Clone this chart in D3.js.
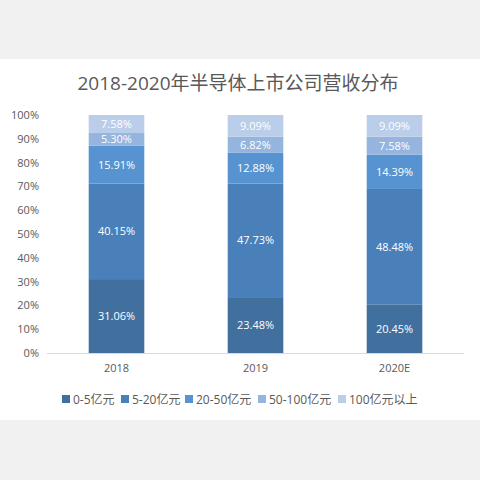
<!DOCTYPE html>
<html><head>
<meta charset="utf-8">
<script src="https://d3js.org/d3.v7.min.js"></script>
<style>
  body { margin: 0; background: #f1f1f2; }
  text { font-family: "Open Sans", "Noto Sans CJK SC", sans-serif; }
  .axis text { fill: #595959; font-size: 11px; }
  .axis path, .axis line { stroke: #d9d9d9; }
</style>
</head>
<body>
<svg id="chart" width="480" height="480"></svg>
<script>
  // data
  const years = ["2018", "2019", "2020E"];
  const series = ["0-5亿元", "5-20亿元", "20-50亿元", "50-100亿元", "100亿元以上"];
  const share0to5 = [31.06, 23.48, 20.45];
  const share5to20 = [40.15, 47.73, 48.48];
  const share20to50 = [15.91, 12.88, 14.39];
  const share50to100 = [5.30, 6.82, 7.58];
  const share100plus = [7.58, 9.09, 9.09];
  const yTicks = [0, 10, 20, 30, 40, 50, 60, 70, 80, 90, 100];
  const colors = ["#41709f", "#4a80b9", "#5693d0", "#95b4de", "#bacde9"];

  const seriesValues = [share0to5, share5to20, share20to50, share50to100, share100plus];
  const rows = years.map((y, i) => {
    const r = { year: y };
    series.forEach((s, j) => r[s] = seriesValues[j][i]);
    return r;
  });

  const svg = d3.select("#chart");
  // white card on light grey page
  svg.append("rect").attr("x", 0).attr("y", 59).attr("width", 480).attr("height", 361).attr("fill", "#fff");

  const margin = { left: 47, right: 16, top: 115, bottom: 127 };
  const x = d3.scaleBand().domain(years).range([margin.left, 480 - margin.right]).paddingInner(0.6).paddingOuter(0.3);
  const y = d3.scaleLinear().domain([0, 100]).range([480 - margin.bottom, margin.top]);

  svg.append("text")
    .attr("x", 238).attr("y", 90)
    .attr("text-anchor", "middle")
    .attr("fill", "#595959")
    .style("font-size", "19px")
    .text("2018-2020年半导体上市公司营收分布");

  const stack = d3.stack().keys(series)(rows);
  const layer = svg.selectAll("g.layer").data(stack).join("g")
    .attr("class", "layer")
    .attr("fill", (d, i) => colors[i]);

  layer.selectAll("rect").data(d => d).join("rect")
    .attr("x", d => x(d.data.year))
    .attr("y", d => y(d[1]))
    .attr("width", x.bandwidth())
    .attr("height", d => y(d[0]) - y(d[1]));

  layer.selectAll("text").data(d => d).join("text")
    .attr("x", d => x(d.data.year) + x.bandwidth() / 2)
    .attr("y", d => (y(d[0]) + y(d[1])) / 2 + 4)
    .attr("text-anchor", "middle")
    .attr("fill", "#fff")
    .style("font-size", "11px")
    .text(d => (d[1] - d[0]).toFixed(2) + "%");

  const yAxis = svg.append("g").attr("class", "axis")
    .attr("transform", "translate(" + margin.left + ",0)")
    .call(d3.axisLeft(y).tickValues(yTicks).tickFormat(d => d + "%").tickSize(0).tickPadding(8));
  yAxis.select(".domain").remove();

  svg.append("g").attr("class", "axis")
    .attr("transform", "translate(0," + y(0) + ")")
    .call(d3.axisBottom(x).tickSize(0).tickPadding(11))
    .call(g => g.select(".domain").attr("d", "M" + margin.left + ",0.5H" + (480 - margin.right)));

  // legend
  const legendX = [62, 121, 185, 258, 338];
  const legend = svg.selectAll("g.legend").data(series).join("g")
    .attr("class", "legend")
    .attr("transform", (d, i) => "translate(" + legendX[i] + ",399)");
  legend.append("rect").attr("x", 0).attr("y", -4).attr("width", 8).attr("height", 8)
    .attr("fill", (d, i) => colors[i]);
  legend.append("text").attr("x", 11).attr("y", 4.5)
    .attr("fill", "#595959").style("font-size", "12px")
    .text(d => d);
</script>
</body>
</html>
